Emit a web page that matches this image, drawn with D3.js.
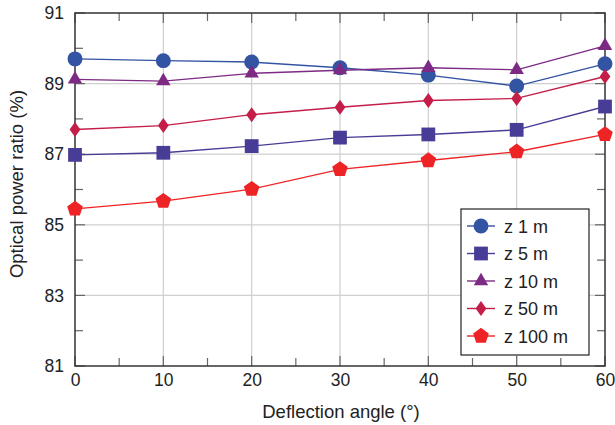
<!DOCTYPE html>
<html lang="en">
<head>
<meta charset="utf-8">
<script src="https://d3js.org/d3.v7.min.js"></script>
<style>
  body { margin: 0; background: #fff; }
  text { font-family: "Liberation Sans", Arial, sans-serif; fill: #222; }
</style>
</head>
<body>
<div id="viz"></div>
<script>
// data
var angles = [0, 10, 20, 30, 40, 50, 60];
var z1 = [89.70, 89.65, 89.61, 89.45, 89.24, 88.93, 89.56];
var z5 = [86.98, 87.04, 87.23, 87.47, 87.56, 87.69, 88.35];
var z10 = [89.12, 89.07, 89.29, 89.38, 89.45, 89.39, 90.07];
var z50 = [87.70, 87.81, 88.12, 88.33, 88.52, 88.58, 89.20];
var z100 = [85.45, 85.67, 86.01, 86.57, 86.82, 87.07, 87.56];
var seriesNames = ["z 1 m", "z 5 m", "z 10 m", "z 50 m", "z 100 m"];
var xTicks = [0, 10, 20, 30, 40, 50, 60];
var yTicks = [81, 83, 85, 87, 89, 91];

var series = [
  { name: seriesNames[0], values: z1, color: "#3353a3", shape: "circle" },
  { name: seriesNames[1], values: z5, color: "#473d97", shape: "square" },
  { name: seriesNames[2], values: z10, color: "#7d2a85", shape: "triangle" },
  { name: seriesNames[3], values: z50, color: "#c41d48", shape: "diamond" },
  { name: seriesNames[4], values: z100, color: "#ee2326", shape: "pentagon" }
];

var W = 615, H = 425;
var mLeft = 75, mRight = 605, mTop = 13, mBottom = 366;

var x = d3.scaleLinear().domain([0, 60]).range([mLeft, mRight]);
var y = d3.scaleLinear().domain([81, 91]).range([mBottom, mTop]);

var svg = d3.select("#viz").append("svg")
  .attr("width", W).attr("height", H);

// grid
svg.append("g").selectAll("line").data(xTicks.slice(1, -1)).enter().append("line")
  .attr("x1", d => x(d)).attr("x2", d => x(d))
  .attr("y1", mTop).attr("y2", mBottom)
  .attr("stroke", "#cfcfcf").attr("stroke-width", 1.2);
svg.append("g").selectAll("line").data(yTicks.slice(1, -1)).enter().append("line")
  .attr("y1", d => y(d)).attr("y2", d => y(d))
  .attr("x1", mLeft).attr("x2", mRight)
  .attr("stroke", "#cfcfcf").attr("stroke-width", 1.2);

// inward ticks on all four sides
var minorX = d3.range(5, 60, 10);
var minorY = d3.range(82, 91, 2);
var tk = svg.append("g").attr("stroke", "#666").attr("stroke-width", 1.2);
function ticksX(vals, len) {
  vals.forEach(function(v) {
    tk.append("line").attr("x1", x(v)).attr("x2", x(v)).attr("y1", mBottom).attr("y2", mBottom - len);
    tk.append("line").attr("x1", x(v)).attr("x2", x(v)).attr("y1", mTop).attr("y2", mTop + len);
  });
}
function ticksY(vals, len) {
  vals.forEach(function(v) {
    tk.append("line").attr("y1", y(v)).attr("y2", y(v)).attr("x1", mLeft).attr("x2", mLeft + len);
    tk.append("line").attr("y1", y(v)).attr("y2", y(v)).attr("x1", mRight).attr("x2", mRight - len);
  });
}
ticksX(xTicks, 10); ticksX(minorX, 8);
ticksY(yTicks, 10); ticksY(minorY, 8);

// frame
svg.append("rect").attr("x", mLeft).attr("y", mTop)
  .attr("width", mRight - mLeft).attr("height", mBottom - mTop)
  .attr("fill", "none").attr("stroke", "#333").attr("stroke-width", 1.5);

// axes labels via d3 axes
var xAxis = svg.append("g").attr("transform", "translate(0," + mBottom + ")")
  .call(d3.axisBottom(x).tickValues(xTicks).tickSize(0).tickPadding(8));
var yAxis = svg.append("g").attr("transform", "translate(" + mLeft + ",0)")
  .call(d3.axisLeft(y).tickValues(yTicks).tickSize(0).tickPadding(11));
[xAxis, yAxis].forEach(function(a) {
  a.select(".domain").remove();
  a.selectAll("text").style("font-size", "17.5px")
    .style("font-family", "'Liberation Sans', Arial, sans-serif").attr("fill", "#222");
});

svg.append("text").attr("x", 341).attr("y", 418)
  .attr("text-anchor", "middle").style("font-size", "18.5px").text("Deflection angle (°)");
svg.append("text").attr("transform", "translate(23,184) rotate(-90)")
  .attr("text-anchor", "middle").style("font-size", "18.5px").text("Optical power ratio (%)");

// marker shapes
var symbolMap = {
  circle: d3.symbol().type(d3.symbolCircle).size(175),
  square: d3.symbol().type(d3.symbolSquare).size(190),
  triangle: d3.symbol().type(d3.symbolTriangle).size(90),
  diamond: function() {
    return "M0,-7.5L5.4,0L0,7.5L-5.4,0Z";
  },
  pentagon: function() {
    var r = 8.2, pts = [];
    for (var i = 0; i < 5; i++) {
      var a = -Math.PI / 2 + i * 2 * Math.PI / 5;
      pts.push([r * Math.cos(a), r * Math.sin(a)]);
    }
    return "M" + pts.join("L") + "Z";
  }
};

var line = d3.line().x((d, i) => x(angles[i])).y(d => y(d));

series.forEach(function(s) {
  var g = svg.append("g");
  g.append("path").attr("d", line(s.values))
    .attr("fill", "none").attr("stroke", s.color).attr("stroke-width", 1.4);
  g.selectAll("path.m").data(s.values).enter().append("path").attr("class", "m")
    .attr("transform", (d, i) => "translate(" + x(angles[i]) + "," + y(d) + ")")
    .attr("d", symbolMap[s.shape]())
    .attr("fill", s.color);
});

// legend
var lg = svg.append("g");
lg.append("rect").attr("x", 461).attr("y", 209).attr("width", 128).attr("height", 146)
  .attr("fill", "#fff").attr("stroke", "#222").attr("stroke-width", 1.2);
series.forEach(function(s, i) {
  var cy = 226 + i * 27.5;
  lg.append("line").attr("x1", 467).attr("x2", 495).attr("y1", cy).attr("y2", cy)
    .attr("stroke", s.color).attr("stroke-width", 1.4);
  lg.append("path").attr("transform", "translate(481," + cy + ")")
    .attr("d", symbolMap[s.shape]()).attr("fill", s.color);
  lg.append("text").attr("x", 504).attr("y", cy + 6.5).style("font-size", "18px").text(s.name);
});
</script>
</body>
</html>
